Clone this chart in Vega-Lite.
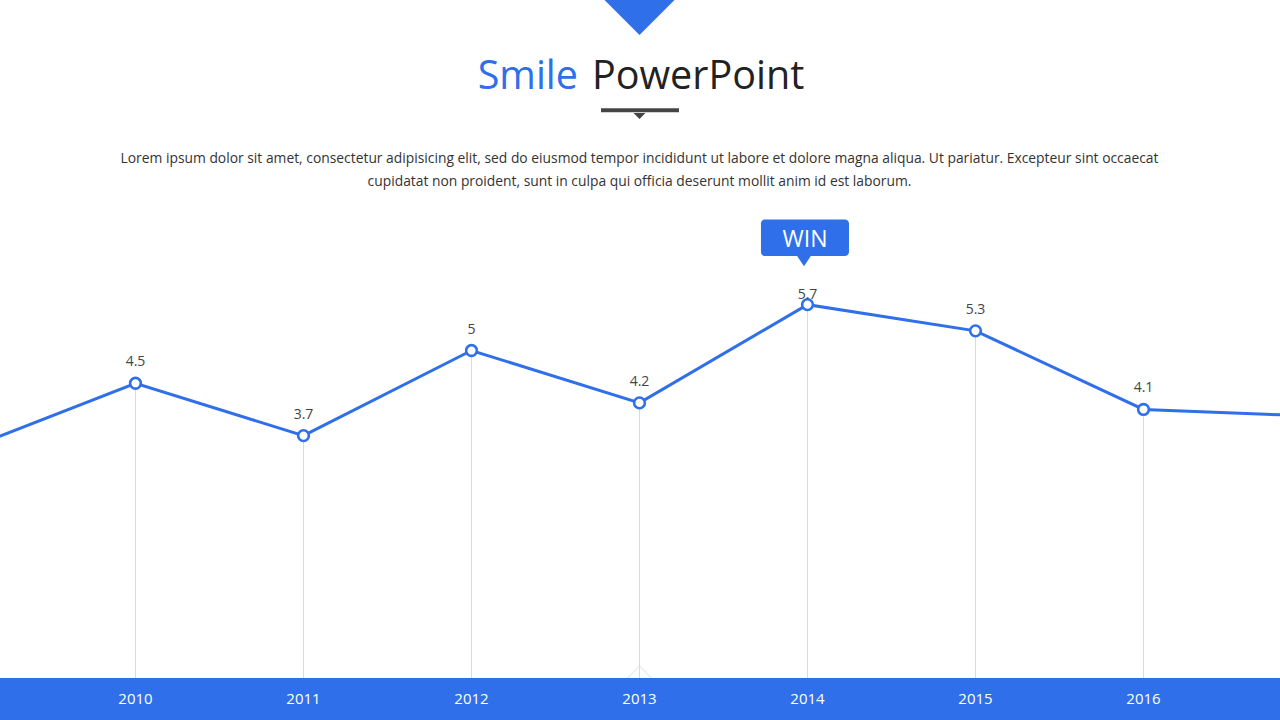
{
  "$schema": "https://vega.github.io/schema/vega-lite/v6.json",
  "width": 1280,
  "height": 720,
  "autosize": {"type": "none"},
  "padding": 0,
  "background": "white",
  "config": {"view": {"stroke": null}, "font": "Open Sans"},
  "datasets": {
    "series": [
      {"year": 2009, "value": 3.5},
      {"year": 2010, "value": 4.5},
      {"year": 2011, "value": 3.7},
      {"year": 2012, "value": 5.0},
      {"year": 2013, "value": 4.2},
      {"year": 2014, "value": 5.7},
      {"year": 2015, "value": 5.3},
      {"year": 2016, "value": 4.1},
      {"year": 2017, "value": 4.0}
    ]
  },
  "encoding": {
    "x": {"type": "quantitative", "axis": null, "scale": {"domain": [2009.1935, 2016.8125], "nice": false, "zero": false}},
    "y": {"type": "quantitative", "axis": null, "scale": {"domain": [-0.641, 10.351], "nice": false, "zero": false}}
  },
  "layer": [
    {
      "data": {"name": "series"},
      "transform": [{"filter": "datum.year >= 2010 && datum.year <= 2016"}],
      "mark": {"type": "rule", "color": "#d9d9d9", "strokeWidth": 1},
      "encoding": {"x": {"field": "year"}, "y": {"field": "value"}, "y2": {"datum": 0}}
    },
    {
      "data": {"values": [{"x": 2013, "y": 0.183}]},
      "mark": {"type": "point", "shape": "M-1,1L0,0L1,1", "filled": false, "stroke": "#dddddd", "strokeWidth": 1, "size": 576, "opacity": 1},
      "encoding": {"x": {"field": "x"}, "y": {"field": "y"}}
    },
    {
      "data": {"values": [{"x0": 2008, "x1": 2018, "y0": 0, "y1": -1}]},
      "mark": {"type": "rect", "color": "#2f6fea"},
      "encoding": {"x": {"field": "x0"}, "x2": {"field": "x1"}, "y": {"field": "y0"}, "y2": {"field": "y1"}}
    },
    {
      "data": {"name": "series"},
      "transform": [{"filter": "datum.year >= 2010 && datum.year <= 2016"}],
      "mark": {"type": "text", "color": "white", "fontSize": 15, "baseline": "middle", "align": "center"},
      "encoding": {"x": {"field": "year"}, "y": {"datum": -0.321}, "text": {"field": "year", "type": "nominal"}}
    },
    {
      "data": {"name": "series"},
      "mark": {"type": "line", "color": "#2f6fea", "strokeWidth": 3},
      "encoding": {"x": {"field": "year"}, "y": {"field": "value"}}
    },
    {
      "data": {"name": "series"},
      "transform": [{"filter": "datum.year >= 2010 && datum.year <= 2016"}],
      "mark": {"type": "point", "shape": "circle", "filled": true, "fill": "white", "stroke": "#2f6fea", "strokeWidth": 2.6, "size": 115, "opacity": 1},
      "encoding": {"x": {"field": "year"}, "y": {"field": "value"}}
    },
    {
      "data": {"name": "series"},
      "transform": [{"filter": "datum.year >= 2010 && datum.year <= 2016 && datum.year != 2014"}],
      "mark": {"type": "text", "color": "#444444", "fontSize": 14, "dy": -17, "baseline": "alphabetic", "align": "center"},
      "encoding": {"x": {"field": "year"}, "y": {"field": "value"}, "text": {"field": "value", "type": "quantitative"}}
    },
    {
      "data": {"name": "series"},
      "transform": [{"filter": "datum.year == 2014"}],
      "mark": {"type": "text", "color": "#444444", "fontSize": 14, "dy": -6, "baseline": "alphabetic", "align": "center"},
      "encoding": {"x": {"field": "year"}, "y": {"field": "value"}, "text": {"field": "value", "type": "quantitative"}}
    },
    {
      "data": {"values": [{"x": 2013, "y": 10.351}]},
      "mark": {"type": "point", "shape": "M-1,0L1,0L0,1Z", "filled": true, "color": "#2f6fea", "size": 4900, "opacity": 1},
      "encoding": {"x": {"field": "x"}, "y": {"field": "y"}}
    },
    {
      "data": {"values": [{"x": 2012.634, "y": 8.992, "t": "Smile"}]},
      "mark": {"type": "text", "color": "#2f6fea", "fontSize": 39.5, "align": "right", "baseline": "alphabetic"},
      "encoding": {"x": {"field": "x"}, "y": {"field": "y"}, "text": {"field": "t"}}
    },
    {
      "data": {"values": [{"x": 2012.717, "y": 8.992, "t": "PowerPoint"}]},
      "mark": {"type": "text", "color": "#222222", "fontSize": 39.5, "align": "left", "baseline": "alphabetic"},
      "encoding": {"x": {"field": "x"}, "y": {"field": "y"}, "text": {"field": "t"}}
    },
    {
      "data": {"values": [{"x0": 2012.771, "x1": 2013.235, "y": 8.667}]},
      "mark": {"type": "rule", "color": "#444444", "strokeWidth": 4},
      "encoding": {"x": {"field": "x0"}, "x2": {"field": "x1"}, "y": {"field": "y"}}
    },
    {
      "data": {"values": [{"x": 2013, "y": 8.626}]},
      "mark": {"type": "point", "shape": "M-1,0L1,0L0,1Z", "filled": true, "color": "#444444", "size": 144, "opacity": 1},
      "encoding": {"x": {"field": "x"}, "y": {"field": "y"}}
    },
    {
      "data": {"values": [
        {"x": 2013, "y": 7.862, "t": "Lorem ipsum dolor sit amet, consectetur adipisicing elit, sed do eiusmod tempor incididunt ut labore et dolore magna aliqua. Ut pariatur. Excepteur sint occaecat"},
        {"x": 2013, "y": 7.511, "t": "cupidatat non proident, sunt in culpa qui officia deserunt mollit anim id est laborum."}
      ]},
      "mark": {"type": "text", "color": "#333333", "fontSize": 13.85, "align": "center", "baseline": "alphabetic"},
      "encoding": {"x": {"field": "x"}, "y": {"field": "y"}, "text": {"field": "t"}}
    },
    {
      "data": {"values": [{"x0": 2013.723, "x1": 2014.247, "y0": 7.0, "y1": 6.443}]},
      "mark": {"type": "rect", "color": "#2f6fea", "cornerRadius": 4},
      "encoding": {"x": {"field": "x0"}, "x2": {"field": "x1"}, "y": {"field": "y0"}, "y2": {"field": "y1"}}
    },
    {
      "data": {"values": [{"x": 2013.979, "y": 6.458}]},
      "mark": {"type": "point", "shape": "M-1,0L1,0L0,1.5Z", "filled": true, "color": "#2f6fea", "size": 225, "opacity": 1},
      "encoding": {"x": {"field": "x"}, "y": {"field": "y"}}
    },
    {
      "data": {"values": [{"x": 2013.985, "y": 6.58, "t": "WIN"}]},
      "mark": {"type": "text", "color": "white", "fontSize": 23, "align": "center", "baseline": "alphabetic"},
      "encoding": {"x": {"field": "x"}, "y": {"field": "y"}, "text": {"field": "t"}}
    }
  ]
}
